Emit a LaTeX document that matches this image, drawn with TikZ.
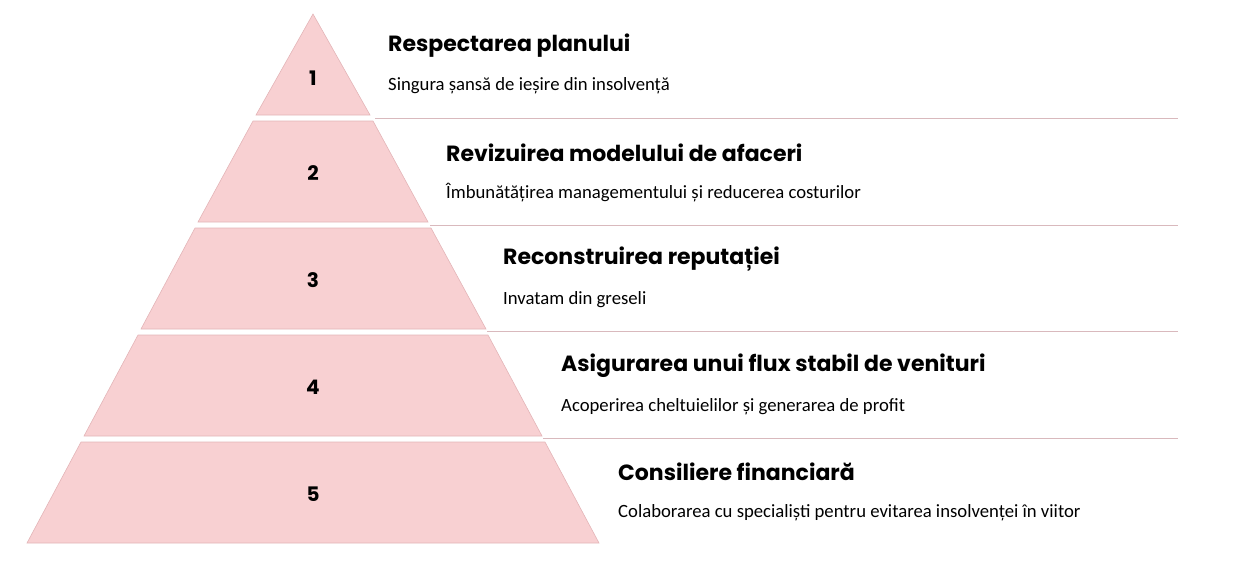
\documentclass[tikz,border=0pt]{standalone}
\usepackage{fontspec}
\setmainfont{Carlito}
\newfontfamily\pop{Poppins}
\definecolor{layer}{HTML}{F8D0D2}
\definecolor{edge}{HTML}{E3B5B8}
\definecolor{sep}{HTML}{D9B9BD}
\begin{document}
\begin{tikzpicture}[x=1pt,y=-1pt,
  lay/.style={fill=layer,draw=edge,line width=0.6pt},
  num/.style={font=\pop\bfseries\fontsize{20}{24}\selectfont},
  ttl/.style={anchor=west,font=\pop\bfseries\fontsize{22}{26}\selectfont,inner sep=0},
  dsc/.style={anchor=west,font=\fontsize{18.7}{22}\selectfont,inner sep=0},
  sepl/.style={draw=sep,line width=0.7pt}]
\useasboundingbox (0,0) rectangle (1248,565);
% layers
\draw[lay] (313,14) -- (370,115) -- (256,115) -- cycle;
\draw[lay] (253,121) -- (373,121) -- (428,222) -- (198,222) -- cycle;
\draw[lay] (195,228) -- (431,228) -- (486,329) -- (141,329) -- cycle;
\draw[lay] (138,335) -- (488,335) -- (542,436) -- (84,436) -- cycle;
\draw[lay] (81,442) -- (545,442) -- (599,543) -- (27,543) -- cycle;
\node[num] (n1) at (313,78) {1};
\node[num] (n2) at (313,173) {2};
\node[num] (n3) at (313,280) {3};
\node[num] (n4) at (313,387) {4};
\node[num] (n5) at (313,494) {5};
% separators
\coordinate (a1) at (375,118); \coordinate (b1) at (1178,118);
\coordinate (a2) at (430,225); \coordinate (b2) at (1178,225);
\coordinate (a3) at (487,331); \coordinate (b3) at (1178,331);
\coordinate (a4) at (543,438); \coordinate (b4) at (1178,438);
\draw[sepl] (a1) -- (b1);
\draw[sepl] (a2) -- (b2);
\draw[sepl] (a3) -- (b3);
\draw[sepl] (a4) -- (b4);
% texts
\node[ttl] (t1) at (388,46) {Respectarea planului};
\node[dsc] (d1) at (388,86) {Singura șansă de ieșire din insolvență};
\node[ttl] (t2) at (446,153) {Revizuirea modelului de afaceri};
\node[dsc] (d2) at (446,193) {Îmbunătățirea managementului și reducerea costurilor};
\node[ttl] (t3) at (503,259) {Reconstruirea reputației};
\node[dsc] (d3) at (503,300) {Invatam din greseli};
\node[ttl] (t4) at (561,366) {Asigurarea unui flux stabil de venituri};
\node[dsc] (d4) at (561,407) {Acoperirea cheltuielilor și generarea de profit};
\node[ttl] (t5) at (618,472) {Consiliere financiară};
\node[dsc] (d5) at (618,513) {Colaborarea cu specialiști pentru evitarea insolvenței în viitor};
\end{tikzpicture}
\end{document}
